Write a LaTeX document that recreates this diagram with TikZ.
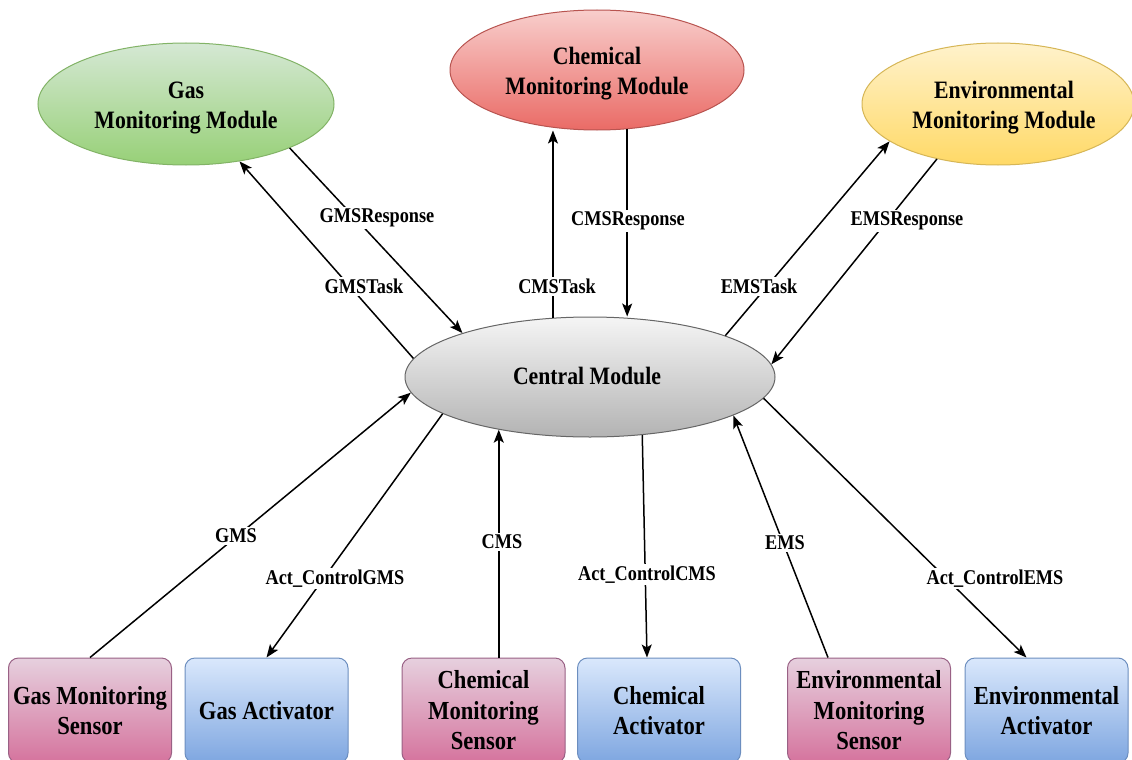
\documentclass[tikz,border=0pt]{standalone}
\usepackage{fontspec}
\setmainfont{Liberation Serif}[FakeStretch=0.87]
\usetikzlibrary{shapes.geometric,arrows.meta}

% fill and stroke colours of the modules and devices
\definecolor{gasTop}{HTML}{D5E8D4}\definecolor{gasBot}{HTML}{97D077}\definecolor{gasLine}{HTML}{82B366}
\definecolor{chemTop}{HTML}{F8CECC}\definecolor{chemBot}{HTML}{EA6B66}\definecolor{chemLine}{HTML}{B85450}
\definecolor{envTop}{HTML}{FFF2CC}\definecolor{envBot}{HTML}{FFD966}\definecolor{envLine}{HTML}{D6B656}
\definecolor{cenTop}{HTML}{F5F5F5}\definecolor{cenBot}{HTML}{B3B3B3}\definecolor{cenLine}{HTML}{666666}
\definecolor{sensTop}{HTML}{E6D0DE}\definecolor{sensBot}{HTML}{D5739D}\definecolor{sensLine}{HTML}{996185}
\definecolor{actTop}{HTML}{DAE8FC}\definecolor{actBot}{HTML}{7EA6E0}\definecolor{actLine}{HTML}{6C8EBF}

\newcommand\modtext{\fontsize{25}{30}\selectfont\bfseries}
\newcommand\unittext{\fontsize{26}{30.5}\selectfont\bfseries}
\newcommand\msgtext{\fontsize{21}{25}\selectfont\bfseries}

\tikzset{
  module/.style={ellipse, draw, line width=1pt, inner sep=0pt},
  modlabel/.style={align=center, inner sep=0pt, font=\modtext},
  device/.style={rectangle, rounded corners=10pt, draw, line width=1pt, align=center,
                 inner sep=0pt, minimum width=163pt, minimum height=105pt, font=\unittext},
  sensor/.style={device, top color=sensTop, bottom color=sensBot, draw=sensLine},
  actuator/.style={device, top color=actTop, bottom color=actBot, draw=actLine},
  msg/.style={fill=white, inner sep=2pt, anchor=base, font=\msgtext},
  link/.style={line width=1.5pt, -{Stealth[length=13pt,width=10pt,inset=3pt]}}
}

\begin{document}
\begin{tikzpicture}[x=1pt,y=-1pt]
\clip (0,0) rectangle (1132,760);
\fill[white] (0,0) rectangle (1132,760);

% monitoring modules
\node[module, minimum width=296pt, minimum height=122pt, top color=gasTop, bottom color=gasBot, draw=gasLine]
  (gas) at (186,104) {};
\node[module, minimum width=294pt, minimum height=120pt, top color=chemTop, bottom color=chemBot, draw=chemLine]
  (chem) at (597,70) {};
\node[module, minimum width=272pt, minimum height=122pt, top color=envTop, bottom color=envBot, draw=envLine]
  (env) at (998,104) {};
\node[module, minimum width=370pt, minimum height=120pt, top color=cenTop, bottom color=cenBot, draw=cenLine]
  (central) at (590,377) {};

% module titles
\node[modlabel] (gasT)  at ([yshift=-4pt]gas.center)  {Gas\\Monitoring Module};
\node[modlabel] (chemT) at ([yshift=-4pt]chem.center) {Chemical\\Monitoring Module};
\node[modlabel] (envT)  at ([xshift=6pt,yshift=-4pt]env.center) {Environmental\\Monitoring Module};
\node[modlabel] (cenT)  at ([xshift=-3pt,yshift=1pt]central.center) {Central Module};

% sensors and activators
\node[sensor]   (gsensor) at (90,710.5)    {Gas Monitoring\\Sensor};
\node[actuator] (gact)    at (266.5,710.5) {Gas Activator};
\node[sensor]   (csensor) at (483.5,710.5) {Chemical\\Monitoring\\Sensor};
\node[actuator] (cact)    at (659,710.5)   {Chemical\\Activator};
\node[sensor]   (esensor) at (869,710.5)   {Environmental\\Monitoring\\Sensor};
\node[actuator] (eact)    at (1046.5,710.5){Environmental\\Activator};

% tasks and responses between the central module and the monitoring modules
\draw[link] (central.174) -- (gas.-47);
\draw[link] (gas.-23) -- (central.161);
\draw[link] (central.122) -- (central.122 |- chem.south);
\draw[link] (chem.-63) -- (chem.-63 |- central.north);
\draw[link] (central.17) -- (env.199);
\draw[link] (env.222) -- (central.4);

% sensor readings and activator control
\draw[link] (gsensor.north) -- (central.185);
\draw[link] (central.194) -- (gact.north);
\draw[link] (central.210 |- csensor.north) -- (central.210);
\draw[link] (central.-48) -- ([xshift=-12pt]cact.north);
\draw[link] ([xshift=-41pt]esensor.north) -- (central.-15);
\draw[link] (central.-7) -- ([xshift=-20pt]eact.north);

% message labels
\node[msg] (l1)  at (377,222.5) {GMSResponse};
\node[msg] (l2)  at (364,293.5) {GMSTask};
\node[msg] (l3)  at (628,225.5) {CMSResponse};
\node[msg] (l4)  at (557,293.5) {CMSTask};
\node[msg] (l5)  at (907,225.5) {EMSResponse};
\node[msg] (l6)  at (759,293.5) {EMSTask};
\node[msg] (l7)  at (236,542.5) {GMS};
\node[msg] (l8)  at (335,584.5) {Act\_ControlGMS};
\node[msg] (l9)  at (502,548.5) {CMS};
\node[msg] (l10) at (647,580.5) {Act\_ControlCMS};
\node[msg] (l11) at (785,549.5) {EMS};
\node[msg] (l12) at (995,584.5) {Act\_ControlEMS};
\end{tikzpicture}
\end{document}
